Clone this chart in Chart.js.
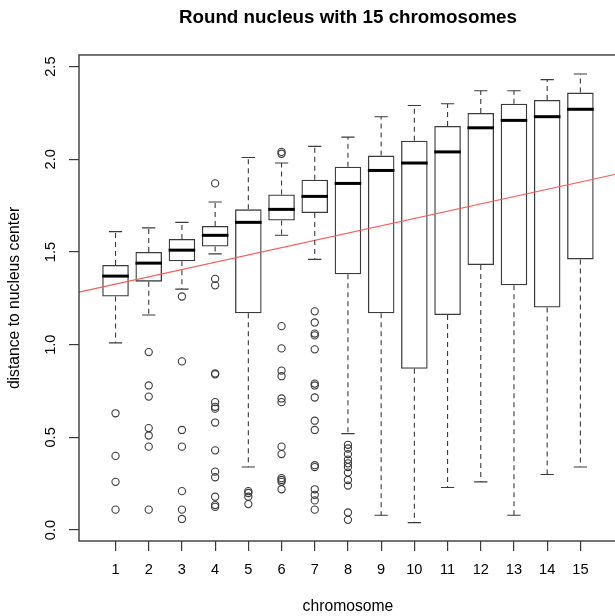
<!DOCTYPE html>
<html>
<head>
<meta charset="utf-8">
<script src="https://cdn.jsdelivr.net/npm/chart.js@4.4.0/dist/chart.umd.min.js"></script>
<style>
  html, body { margin: 0; padding: 0; background: #fff; overflow: hidden; }
  #chart { display: block; }
</style>
</head>
<body>
<canvas id="chart" width="622" height="616"></canvas>
<script>
// chromosome 1..15
var chromosomes = [1, 2, 3, 4, 5, 6, 7, 8, 9, 10, 11, 12, 13, 14, 15];

var lowWhisker  = [1.01, 1.16, 1.30, 1.49, 0.34, 1.59, 1.46, 0.52, 0.08, 0.04, 0.23, 0.26, 0.08, 0.30, 0.34];
var q1          = [1.26, 1.34, 1.45, 1.53, 1.17, 1.67, 1.71, 1.38, 1.17, 0.87, 1.16, 1.43, 1.32, 1.20, 1.46];
var medians     = [1.37, 1.44, 1.51, 1.59, 1.66, 1.73, 1.80, 1.87, 1.94, 1.98, 2.04, 2.17, 2.21, 2.23, 2.27];
var q3          = [1.43, 1.50, 1.57, 1.64, 1.73, 1.81, 1.89, 1.96, 2.02, 2.10, 2.18, 2.25, 2.30, 2.32, 2.36];
var highWhisker = [1.61, 1.63, 1.66, 1.77, 2.01, 1.98, 2.07, 2.12, 2.23, 2.29, 2.30, 2.37, 2.37, 2.43, 2.46];

var outliers = [
  [0.63, 0.40, 0.26, 0.11],
  [0.96, 0.78, 0.72, 0.55, 0.51, 0.45, 0.11],
  [1.26, 0.91, 0.54, 0.45, 0.21, 0.11, 0.06],
  [1.87, 1.355, 1.32, 0.845, 0.84, 0.69, 0.665, 0.655, 0.58, 0.43, 0.315, 0.285, 0.18, 0.135, 0.125],
  [0.21, 0.20, 0.18, 0.14],
  [2.04, 2.03, 1.10, 0.98, 0.86, 0.83, 0.71, 0.69, 0.45, 0.41, 0.28, 0.27, 0.26, 0.22],
  [1.18, 1.12, 1.06, 1.05, 0.975, 0.79, 0.78, 0.715, 0.59, 0.54, 0.35, 0.34, 0.22, 0.19, 0.16, 0.11],
  [0.46, 0.44, 0.41, 0.38, 0.36, 0.34, 0.31, 0.27, 0.24, 0.095, 0.055],
  [], [], [], [], [], [], []
];

// red reference line (ends at the plot edges)
var trendX = [-0.1, 16.1];
var trendY = [1.284, 1.921];

var yTicks = [0, 0.5, 1.0, 1.5, 2.0, 2.5];

var FONT = "'Liberation Sans', Arial, Helvetica, sans-serif";
var INK = "#3a3a3a";

var boxData = chromosomes.map(function (c, i) {
  return { x: c, y: [q1[i], q3[i]] };
});
var outlierData = [];
chromosomes.forEach(function (c, i) {
  outliers[i].forEach(function (v) {
    outlierData.push({ x: c, y: v });
  });
});
var trendData = trendX.map(function (x, i) {
  return { x: x, y: trendY[i] };
});

// whiskers, staples, medians and the box around the plot
var boxExtras = {
  id: "boxExtras",
  afterDatasetsDraw: function (chart) {
    var c = chart.ctx, xs = chart.scales.x, ys = chart.scales.y;
    c.save();
    c.strokeStyle = INK;
    chromosomes.forEach(function (ch, i) {
      var x = xs.getPixelForValue(ch);
      var half = xs.getPixelForValue(ch + 0.4) - x;
      var cap = half / 2;

      c.lineWidth = 1.1;
      c.setLineDash([5, 4]);
      c.beginPath();
      c.moveTo(x, ys.getPixelForValue(q3[i]));
      c.lineTo(x, ys.getPixelForValue(highWhisker[i]));
      c.moveTo(x, ys.getPixelForValue(q1[i]));
      c.lineTo(x, ys.getPixelForValue(lowWhisker[i]));
      c.stroke();

      c.setLineDash([]);
      c.beginPath();
      var yh = ys.getPixelForValue(highWhisker[i]);
      var yl = ys.getPixelForValue(lowWhisker[i]);
      c.moveTo(x - cap, yh); c.lineTo(x + cap, yh);
      c.moveTo(x - cap, yl); c.lineTo(x + cap, yl);
      c.stroke();

      c.lineWidth = 3;
      c.strokeStyle = "#000";
      c.beginPath();
      var ym = ys.getPixelForValue(medians[i]);
      c.moveTo(x - half, ym); c.lineTo(x + half, ym);
      c.stroke();
      c.strokeStyle = INK;
    });
    var a = chart.chartArea;
    c.lineWidth = 1.4;
    c.strokeRect(a.left, a.top, a.right - a.left, a.bottom - a.top);
    c.restore();
  }
};

new Chart(document.getElementById("chart").getContext("2d"), {
  type: "bar",
  data: {
    datasets: [
      {
        type: "line",
        data: trendData,
        borderColor: "rgb(250, 90, 90)",
        borderWidth: 1.2,
        pointRadius: 0,
        order: 0
      },
      {
        type: "scatter",
        data: outlierData,
        pointStyle: "circle",
        pointRadius: 3.6,
        borderWidth: 1.1,
        borderColor: INK,
        backgroundColor: "rgba(0,0,0,0)",
        order: 1
      },
      {
        type: "bar",
        data: boxData,
        borderColor: INK,
        borderWidth: 1.3,
        borderSkipped: false,
        backgroundColor: "rgba(0,0,0,0)",
        barPercentage: 0.8,
        categoryPercentage: 1,
        order: 2
      }
    ]
  },
  options: {
    responsive: false,
    animation: false,
    layout: { padding: 0 },
    plugins: {
      legend: { display: false },
      tooltip: { enabled: false },
      title: {
        display: true,
        fullSize: false,
        text: "Round nucleus with 15 chromosomes",
        color: "#000",
        font: { family: FONT, size: 18.8, weight: "bold" },
        padding: { top: 6.7, bottom: 25.7 }
      }
    },
    scales: {
      x: {
        type: "linear",
        min: -0.1,
        max: 16.1,
        offset: false,
        grid: { display: true, drawOnChartArea: false, drawTicks: true, tickLength: 10, color: INK, lineWidth: 1.2, offset: false },
        border: { display: false },
        afterBuildTicks: function (s) {
          s.ticks = chromosomes.map(function (v) { return { value: v }; });
        },
        afterFit: function (s) { s.height = 75; },
        ticks: {
          color: "#000",
          font: { family: FONT, size: 14.6 },
          padding: 10,
          maxRotation: 0,
          autoSkip: false,
          callback: function (v) { return String(v); }
        },
        title: {
          display: true,
          text: "chromosome",
          color: "#000",
          font: { family: FONT, size: 15.7 },
          padding: { top: 0, bottom: 0 }
        }
      },
      y: {
        type: "linear",
        min: -0.059,
        max: 2.563,
        grid: { display: true, drawOnChartArea: false, drawTicks: true, tickLength: 10, color: INK, lineWidth: 1.2 },
        border: { display: false },
        afterBuildTicks: function (s) {
          s.ticks = yTicks.map(function (v) { return { value: v }; });
        },
        afterFit: function (s) { s.width = 79; },
        ticks: {
          color: "#000",
          font: { family: FONT, size: 14.6 },
          padding: 8,
          minRotation: 90,
          maxRotation: 90,
          crossAlign: "center",
          callback: function (v) { return v.toFixed(1); }
        },
        title: {
          display: true,
          text: "distance to nucleus center",
          color: "#000",
          font: { family: FONT, size: 15.7 },
          padding: { top: 5.6, bottom: 0 }
        }
      }
    }
  },
  plugins: [boxExtras]
});
</script>
</body>
</html>
